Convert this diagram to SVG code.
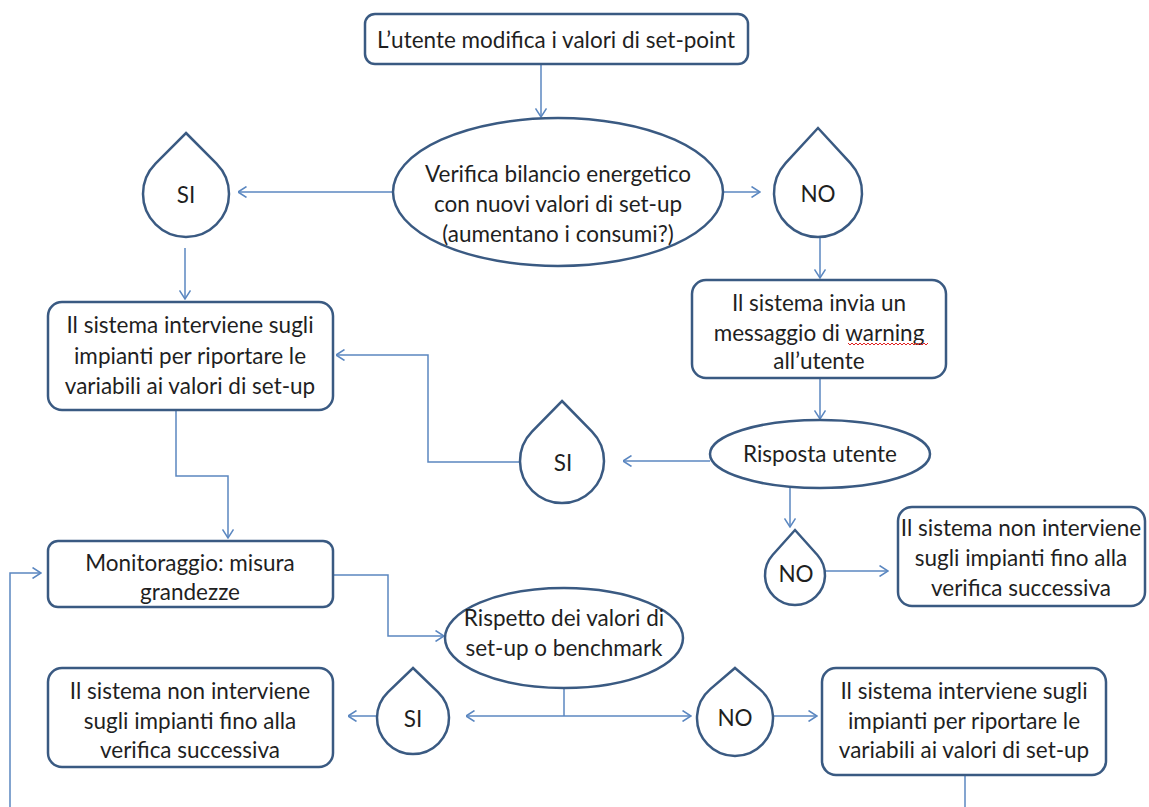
<svg xmlns="http://www.w3.org/2000/svg" width="1149" height="807" viewBox="0 0 1149 807">
  <defs>
    <style>
      .node { fill: #ffffff; stroke: #3a5a82; stroke-width: 2.5; }
      .conn { fill: none; stroke: #5b87c0; stroke-width: 1.5; }
      .lbl { font-family: Lato, "Open Sans", "Liberation Sans", sans-serif; font-size: 22.5px; fill: #1f1f1f; text-anchor: middle; dominant-baseline: central; }
      .spell { fill: none; stroke: #e02020; stroke-width: 1; }
    </style>
    <marker id="arrow" viewBox="0 0 10 12" refX="9.5" refY="6" markerWidth="10" markerHeight="12" markerUnits="userSpaceOnUse" orient="auto">
      <path d="M1,0.5 L9.5,6 L1,11.5" fill="none" stroke="#5b87c0" stroke-width="1.5"/>
    </marker>
  </defs>
  <rect width="1149" height="807" fill="#ffffff"/>

  <!-- connectors -->
  <g id="connectors">
    <path class="conn" d="M541,64 L541,117" marker-end="url(#arrow)"/>
    <path class="conn" d="M393,192 L238,192" marker-end="url(#arrow)"/>
    <path class="conn" d="M723,192 L760,192" marker-end="url(#arrow)"/>
    <path class="conn" d="M185,248 L185,299" marker-end="url(#arrow)"/>
    <path class="conn" d="M820,237 L820,278" marker-end="url(#arrow)"/>
    <path class="conn" d="M820,378 L820,419" marker-end="url(#arrow)"/>
    <path class="conn" d="M710,461 L623,461" marker-end="url(#arrow)"/>
    <path class="conn" d="M520,462 L428,462 L428,355 L336,355" marker-end="url(#arrow)"/>
    <path class="conn" d="M790,488 L790,527" marker-end="url(#arrow)"/>
    <path class="conn" d="M825,571 L888,571" marker-end="url(#arrow)"/>
    <path class="conn" d="M176,410 L176,476 L228,476 L228,538" marker-end="url(#arrow)"/>
    <path class="conn" d="M10,807 L10,573 L41,573" marker-end="url(#arrow)"/>
    <path class="conn" d="M333,575 L388,575 L388,636 L444,636" marker-end="url(#arrow)"/>
    <path class="conn" d="M564,688 L564,716"/>
    <path class="conn" d="M564,716 L466,716" marker-end="url(#arrow)"/>
    <path class="conn" d="M564,716 L691,716" marker-end="url(#arrow)"/>
    <path class="conn" d="M377,716 L348,716" marker-end="url(#arrow)"/>
    <path class="conn" d="M773,716 L817,716" marker-end="url(#arrow)"/>
    <path class="conn" d="M965,775 L965,807"/>
  </g>

  <!-- process boxes -->
  <g id="n-start">
    <rect class="node" x="365" y="14" width="383" height="50" rx="10"/>
    <text class="lbl" x="556" y="39">L’utente modifica i valori di set-point</text>
  </g>

  <g id="n-check">
    <ellipse class="node" cx="558" cy="192" rx="165" ry="74"/>
    <text class="lbl" x="558" y="173">Verifica bilancio  energetico</text>
    <text class="lbl" x="558" y="203">con nuovi valori di set-up</text>
    <text class="lbl" x="558" y="233">(aumentano i consumi?)</text>
  </g>

  <g id="n-si1">
    <path class="node" d="M186,133 L216.5,163.7 A43,43 0 1 1 155.5,163.7 Z"/>
    <text class="lbl" x="186" y="194">SI</text>
  </g>

  <g id="n-no1">
    <path class="node" d="M818,128 L850.4,163.2 A44,44 0 1 1 785.6,163.2 Z"/>
    <text class="lbl" x="818" y="193">NO</text>
  </g>

  <g id="n-intervene1">
    <rect class="node" x="48" y="302" width="285" height="108" rx="14"/>
    <text class="lbl" x="190" y="324">Il sistema interviene sugli</text>
    <text class="lbl" x="190" y="355">impianti per riportare le</text>
    <text class="lbl" x="190" y="385">variabili ai valori di set-up</text>
  </g>

  <g id="n-warning">
    <rect class="node" x="692" y="280" width="254" height="98" rx="14"/>
    <text class="lbl" x="819" y="302">Il sistema invia un</text>
    <text class="lbl" x="819" y="332">messaggio di warning</text>
    <text class="lbl" x="819" y="360">all’utente</text>
    <path class="spell" d="M848,343 l2,2 l2,-2 l2,2 l2,-2 l2,2 l2,-2 l2,2 l2,-2 l2,2 l2,-2 l2,2 l2,-2 l2,2 l2,-2 l2,2 l2,-2 l2,2 l2,-2 l2,2 l2,-2 l2,2 l2,-2 l2,2 l2,-2 l2,2 l2,-2 l2,2 l2,-2 l2,2 l2,-2 l2,2 l2,-2 l2,2 l2,-2 l2,2 l2,-2 l2,2 l2,-2 l2,2 l2,-2"/>
  </g>

  <g id="n-response">
    <ellipse class="node" cx="820" cy="454" rx="110" ry="34"/>
    <text class="lbl" x="820" y="453">Risposta utente</text>
  </g>

  <g id="n-si2">
    <path class="node" d="M562,401 L592,431.6 A42,42 0 1 1 532,431.6 Z"/>
    <text class="lbl" x="563" y="462">SI</text>
  </g>

  <g id="n-no2">
    <path class="node" d="M795,530 L817.4,555 A30,30 0 1 1 772.6,555 Z"/>
    <text class="lbl" x="796" y="573">NO</text>
  </g>

  <g id="n-skip1">
    <rect class="node" x="898" y="507" width="247" height="99" rx="14"/>
    <text class="lbl" x="1021" y="527">Il sistema non interviene</text>
    <text class="lbl" x="1021" y="557">sugli impianti  fino alla</text>
    <text class="lbl" x="1021" y="587">verifica successiva</text>
  </g>

  <g id="n-monitor">
    <rect class="node" x="48" y="541" width="285" height="66" rx="10"/>
    <text class="lbl" x="190" y="562">Monitoraggio: misura</text>
    <text class="lbl" x="190" y="591">grandezze</text>
  </g>

  <g id="n-compliance">
    <ellipse class="node" cx="564" cy="638" rx="119" ry="50"/>
    <text class="lbl" x="564" y="617">Rispetto dei valori di</text>
    <text class="lbl" x="564" y="647">set-up o benchmark</text>
  </g>

  <g id="n-si3">
    <path class="node" d="M413,668 L438,692.1 A36,36 0 1 1 388,692.1 Z"/>
    <text class="lbl" x="413" y="718">SI</text>
  </g>

  <g id="n-no3">
    <path class="node" d="M735,668 L759.7,689.1 A38,38 0 1 1 710.3,689.1 Z"/>
    <text class="lbl" x="735" y="717">NO</text>
  </g>

  <g id="n-skip2">
    <rect class="node" x="48" y="668" width="285" height="99" rx="14"/>
    <text class="lbl" x="190" y="690">Il sistema non interviene</text>
    <text class="lbl" x="190" y="720">sugli impianti  fino alla</text>
    <text class="lbl" x="190" y="749">verifica successiva</text>
  </g>

  <g id="n-intervene2">
    <rect class="node" x="822" y="668" width="284" height="107" rx="14"/>
    <text class="lbl" x="964" y="690">Il sistema interviene sugli</text>
    <text class="lbl" x="964" y="720">impianti per riportare le</text>
    <text class="lbl" x="964" y="749">variabili ai valori di set-up</text>
  </g>
</svg>
